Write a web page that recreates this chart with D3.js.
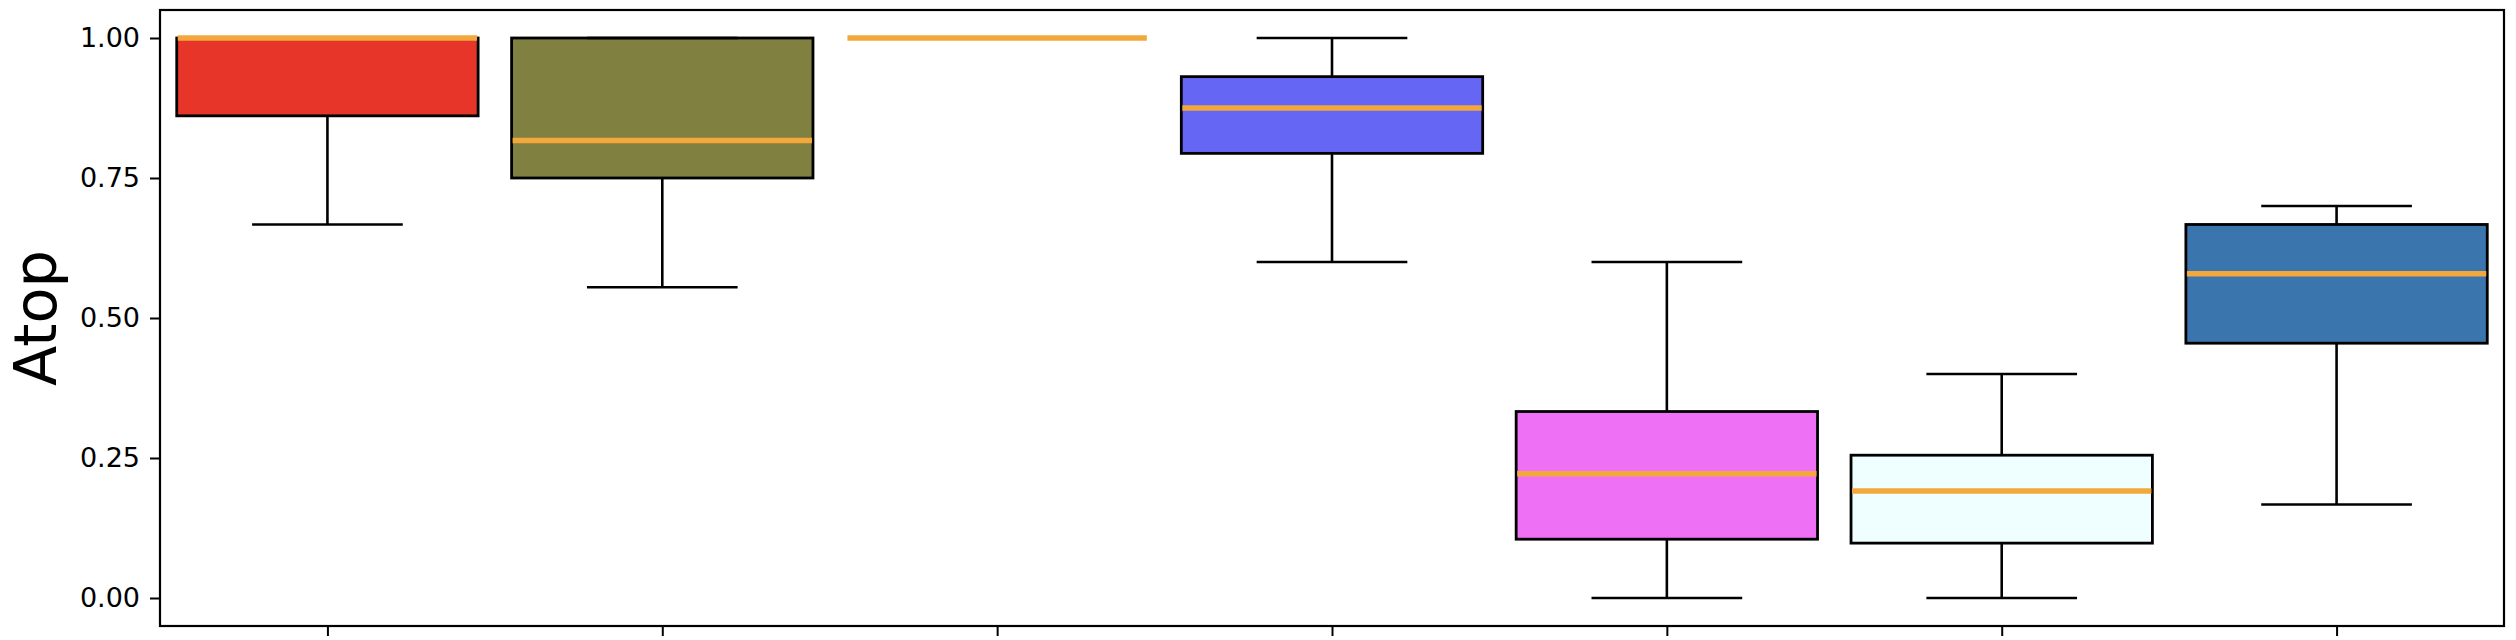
<!DOCTYPE html>
<html>
<head>
<meta charset="utf-8">
<script src="https://cdn.jsdelivr.net/npm/d3@7"></script>
<style>
  html, body { margin: 0; padding: 0; background: #ffffff; }
  svg { display: block; }
  text { font-family: "DejaVu Sans", sans-serif; }
</style>
</head>
<body>
<svg id="chart" width="2516" height="640"></svg>
<script>
// ---- data ----
const categories = ["1", "2", "3", "4", "5", "6", "7"];
const whiskerLow  = [0.667, 0.555, 1.0, 0.600, 0.000, 0.000, 0.167];
const q1Values    = [0.861, 0.750, 1.0, 0.794, 0.105, 0.098, 0.455];
const medians     = [1.000, 0.817, 1.0, 0.875, 0.222, 0.191, 0.579];
const q3Values    = [1.000, 1.000, 1.0, 0.931, 0.333, 0.255, 0.667];
const whiskerHigh = [1.000, 1.000, 1.0, 1.000, 0.600, 0.400, 0.700];
const boxColors   = ["#e8352a", "#808040", "#f2a83b", "#6666f5", "#ee70f5", "#efffff", "#3a75ad"];
const yTicks      = [0.00, 0.25, 0.50, 0.75, 1.00];
const yLabel      = "Atop";
const medianColor = "#f2a83b";

// ---- layout ----
const W = 2516, H = 640;
const margin = { left: 160, top: 10, right: 12, bottom: 14 };
const svg = d3.select("#chart");
const plotW = W - margin.left - margin.right;
const plotH = H - margin.top - margin.bottom;
const g = svg.append("g").attr("transform", `translate(${margin.left},${margin.top})`);

const x = d3.scaleLinear().domain([0.5, categories.length + 0.5]).range([0, plotW]);
const y = d3.scaleLinear().domain([-0.05, 1.05]).range([plotH, 0]);

const boxW = 0.9, capW = 0.45;

const data = categories.map((c, i) => ({
  pos: i + 1,
  lo: whiskerLow[i], q1: q1Values[i], med: medians[i], q3: q3Values[i], hi: whiskerHigh[i],
  color: boxColors[i]
}));

const boxes = g.selectAll("g.box").data(data).join("g").attr("class", "box");

// box body
boxes.append("rect")
  .attr("x", d => x(d.pos - boxW / 2))
  .attr("width", d => x(d.pos + boxW / 2) - x(d.pos - boxW / 2))
  .attr("y", d => y(d.q3))
  .attr("height", d => y(d.q1) - y(d.q3))
  .attr("fill", d => d.color)
  .attr("stroke", "#000")
  .attr("stroke-width", 2.8);

// whiskers
boxes.append("line")
  .attr("x1", d => x(d.pos)).attr("x2", d => x(d.pos))
  .attr("y1", d => y(d.q1)).attr("y2", d => y(d.lo))
  .attr("stroke", "#000").attr("stroke-width", 2.6);
boxes.append("line")
  .attr("x1", d => x(d.pos)).attr("x2", d => x(d.pos))
  .attr("y1", d => y(d.q3)).attr("y2", d => y(d.hi))
  .attr("stroke", "#000").attr("stroke-width", 2.6);

// caps
["lo", "hi"].forEach(k => {
  boxes.append("line")
    .attr("x1", d => x(d.pos - capW / 2)).attr("x2", d => x(d.pos + capW / 2))
    .attr("y1", d => y(d[k])).attr("y2", d => y(d[k]))
    .attr("stroke", "#000").attr("stroke-width", 2.6);
});

// medians
boxes.append("line")
  .attr("x1", d => x(d.pos - boxW / 2) + 1).attr("x2", d => x(d.pos + boxW / 2) - 1)
  .attr("y1", d => y(d.med)).attr("y2", d => y(d.med))
  .attr("stroke", medianColor).attr("stroke-width", 5.5);

// axes
const yAxis = g.append("g")
  .call(d3.axisLeft(y).tickValues(yTicks).tickFormat(d3.format(".2f")).tickSize(10).tickPadding(10));
yAxis.select(".domain").remove();
yAxis.selectAll(".tick line").attr("stroke", "#000").attr("stroke-width", 2);
yAxis.selectAll(".tick text").attr("font-size", 27).attr("fill", "#000")
  .attr("font-family", "'DejaVu Sans', sans-serif");

const xAxis = g.append("g").attr("transform", `translate(0,${plotH})`)
  .call(d3.axisBottom(x).tickValues(data.map(d => d.pos)).tickFormat("").tickSize(10));
xAxis.select(".domain").remove();
xAxis.selectAll(".tick line").attr("stroke", "#000").attr("stroke-width", 2);

// frame
g.append("rect").attr("x", 0).attr("y", 0).attr("width", plotW).attr("height", plotH)
  .attr("fill", "none").attr("stroke", "#000").attr("stroke-width", 2.2);

// y label
svg.append("text")
  .attr("transform", `translate(56,${margin.top + plotH / 2}) rotate(-90)`)
  .attr("text-anchor", "middle")
  .attr("font-size", 59)
  .attr("fill", "#000")
  .text(yLabel);
</script>
</body>
</html>
